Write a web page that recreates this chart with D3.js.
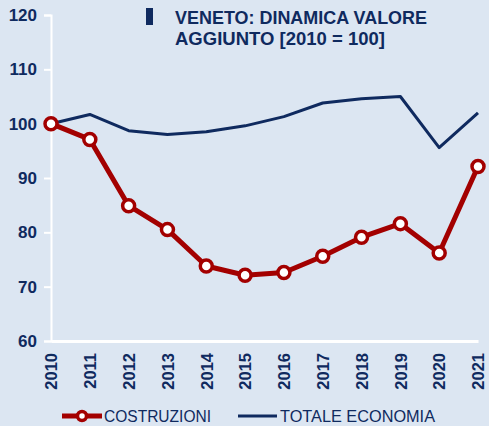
<!DOCTYPE html>
<html>
<head>
<meta charset="utf-8">
<script src="https://cdn.jsdelivr.net/npm/d3@7"></script>
<style>
  body { margin: 0; background: #dce6f2; }
  svg { display: block; font-family: "Liberation Sans", Arial, sans-serif; }
</style>
</head>
<body>
<svg id="chart"></svg>
<script>
const years = [2010, 2011, 2012, 2013, 2014, 2015, 2016, 2017, 2018, 2019, 2020, 2021];
const costruzioni = [100, 97.1, 84.9, 80.5, 73.8, 72.1, 72.6, 75.6, 79.1, 81.6, 76.2, 92.1];
const totaleEconomia = [100, 101.7, 98.7, 98.0, 98.5, 99.6, 101.3, 103.8, 104.6, 105.0, 95.6, 102.0];
const yTicks = [60, 70, 80, 90, 100, 110, 120];
const titleLines = ["VENETO: DINAMICA VALORE", "AGGIUNTO [2010 = 100]"];
const legendLabels = ["COSTRUZIONI", "TOTALE ECONOMIA"];

const width = 489, height = 426;
const margin = { top: 15, right: 11, bottom: 85, left: 51 };
const navy = "#0f2a5f", red = "#a30000";

const svg = d3.select("#chart").attr("width", width).attr("height", height);
svg.append("rect").attr("width", width).attr("height", height).attr("fill", "#dce6f2");

const innerW = width - margin.left - margin.right;
const innerH = height - margin.top - margin.bottom;

const x = d3.scalePoint().domain(years).range([0, innerW]);
const y = d3.scaleLinear().domain([60, 120]).range([innerH, 0]);

const g = svg.append("g").attr("transform", `translate(${margin.left},${margin.top})`);

// axes
const yAxis = d3.axisLeft(y).tickValues(yTicks).tickSize(7).tickPadding(7);
const xAxis = d3.axisBottom(x).tickSize(0).tickPadding(10);

const yG = g.append("g").call(yAxis);
yG.select(".domain").attr("stroke", "#fff").attr("stroke-width", 2);
yG.selectAll(".tick line").attr("stroke", "#fff").attr("stroke-width", 2);
yG.selectAll("text").attr("fill", navy).style("font-size", "17px").style("font-weight", "bold");

const xG = g.append("g").attr("transform", `translate(0,${innerH})`).call(xAxis);
xG.select(".domain").attr("stroke", "#fff").attr("stroke-width", 3);
xG.selectAll("text")
  .attr("fill", navy)
  .style("font-size", "16.5px")
  .style("font-weight", "bold")
  .attr("transform", "rotate(-90)")
  .attr("text-anchor", "end")
  .attr("x", -12)
  .attr("y", 0)
  .attr("dy", "0.35em");

// lines
const line = d3.line().x((d, i) => x(years[i])).y(d => y(d));

g.append("path").datum(totaleEconomia)
  .attr("fill", "none").attr("stroke", navy).attr("stroke-width", 3)
  .attr("stroke-linejoin", "round").attr("d", line);

g.append("path").datum(costruzioni)
  .attr("fill", "none").attr("stroke", red).attr("stroke-width", 5)
  .attr("stroke-linejoin", "round").attr("d", line);

g.selectAll(".dot").data(costruzioni).join("circle")
  .attr("class", "dot")
  .attr("cx", (d, i) => x(years[i]))
  .attr("cy", d => y(d))
  .attr("r", 6)
  .attr("fill", "#fff")
  .attr("stroke", red)
  .attr("stroke-width", 3.5);

// title
svg.append("rect").attr("x", 146).attr("y", 8).attr("width", 7).attr("height", 17).attr("fill", navy);
const titleWidths = [252, 210];
svg.append("g").selectAll("text").data(titleLines).join("text")
  .attr("x", 175).attr("y", (d, i) => 23.5 + i * 21.5)
  .attr("fill", navy).style("font-size", "19px").style("font-weight", "bold")
  .attr("textLength", (d, i) => titleWidths[i]).attr("lengthAdjust", "spacingAndGlyphs")
  .text(d => d);

// legend
const leg = svg.append("g").attr("transform", "translate(0,416)");
leg.append("line").attr("x1", 62).attr("x2", 102).attr("y1", 0).attr("y2", 0)
  .attr("stroke", red).attr("stroke-width", 5);
leg.append("circle").attr("cx", 82).attr("cy", 0).attr("r", 4.5)
  .attr("fill", "#fff").attr("stroke", red).attr("stroke-width", 3.5);
leg.append("text").attr("x", 104).attr("y", 6)
  .attr("fill", navy).style("font-size", "16px")
  .attr("textLength", 107).attr("lengthAdjust", "spacingAndGlyphs")
  .text(legendLabels[0]);
leg.append("line").attr("x1", 238).attr("x2", 277).attr("y1", 0).attr("y2", 0)
  .attr("stroke", navy).attr("stroke-width", 3);
leg.append("text").attr("x", 280).attr("y", 6)
  .attr("fill", navy).style("font-size", "16px")
  .attr("textLength", 155).attr("lengthAdjust", "spacingAndGlyphs")
  .text(legendLabels[1]);
</script>
</body>
</html>
